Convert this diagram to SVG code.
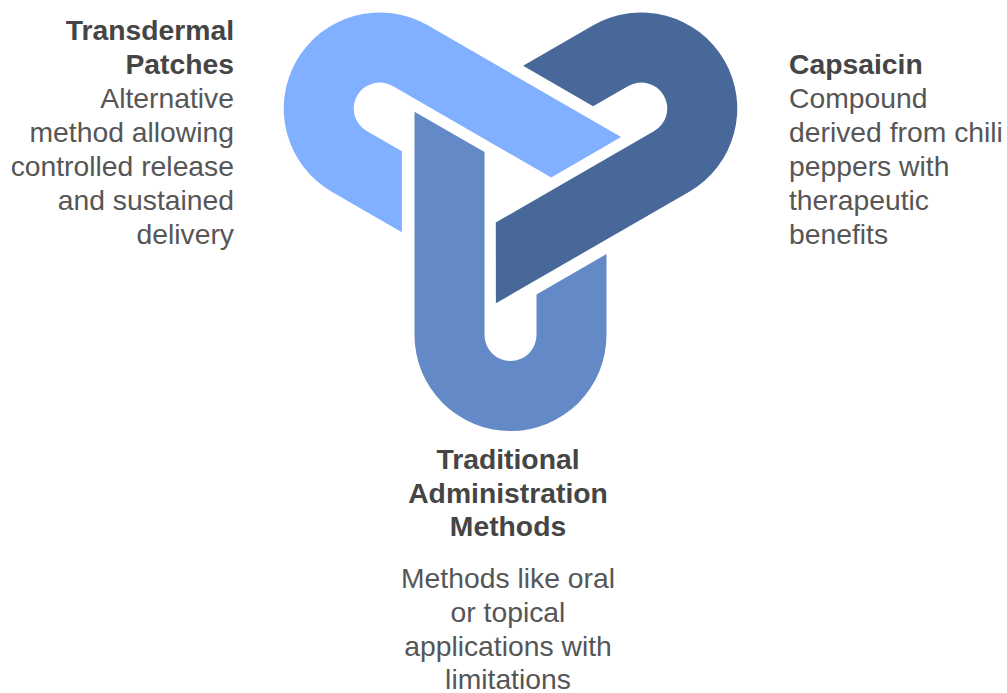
<svg xmlns="http://www.w3.org/2000/svg" xmlns:xlink="http://www.w3.org/1999/xlink" width="1007" height="693" viewBox="0 0 1007 693">
  <style>
    text { font-family: "Liberation Sans", Arial, Helvetica, sans-serif; font-size: 28.3px; }
    .title { font-weight: bold; fill: #454545; }
    .desc { fill: #565656; }
    .end { text-anchor: end; }
    .mid { text-anchor: middle; }
  </style>
  <defs>
    <!-- One U-shaped band, loop centre at the origin, arms pointing up.
         Long arm on the left, short arm on the right, both ends cut at 30 degrees. -->
    <path id="band" d="M-96,0 L-96,-223.3 L-26,-183 L-26,0 A26,26 0 0 0 26,0 L26,-40.6 L96,-81 L96,0 A96,96 0 0 1 -96,0 Z"/>
  </defs>

  <rect width="1007" height="693" fill="#ffffff"/>

  <!-- Bottom band -->
  <g id="traditional-methods">
    <use xlink:href="#band" href="#band" transform="translate(510.5,335)" fill="#638AC7"/>
    <text class="title mid" x="508" y="469">Traditional</text>
    <text class="title mid" x="508" y="503">Administration</text>
    <text class="title mid" x="508" y="536">Methods</text>
    <text class="desc mid" x="508" y="588">Methods like oral</text>
    <text class="desc mid" x="508" y="622">or topical</text>
    <text class="desc mid" x="508" y="656">applications with</text>
    <text class="desc mid" x="508" y="689">limitations</text>
  </g>

  <!-- Upper-left band: the bottom band turned 120 degrees about the knot centre -->
  <g id="transdermal-patches">
    <use xlink:href="#band" href="#band" transform="rotate(120 510.5 184) translate(510.5,335)" fill="#80B0FF"/>
    <text class="title end" x="234" y="40">Transdermal</text>
    <text class="title end" x="234" y="74">Patches</text>
    <text class="desc end" x="234" y="108">Alternative</text>
    <text class="desc end" x="234" y="142">method allowing</text>
    <text class="desc end" x="234" y="176">controlled release</text>
    <text class="desc end" x="234" y="210">and sustained</text>
    <text class="desc end" x="234" y="244">delivery</text>
  </g>

  <!-- Upper-right band: turned 240 degrees -->
  <g id="capsaicin">
    <use xlink:href="#band" href="#band" transform="rotate(240 510.5 184) translate(510.5,335)" fill="#476899"/>
    <text class="title" x="789" y="74">Capsaicin</text>
    <text class="desc" x="789" y="108">Compound</text>
    <text class="desc" x="789" y="142">derived from chili</text>
    <text class="desc" x="789" y="176">peppers with</text>
    <text class="desc" x="789" y="210">therapeutic</text>
    <text class="desc" x="789" y="244">benefits</text>
  </g>
</svg>
